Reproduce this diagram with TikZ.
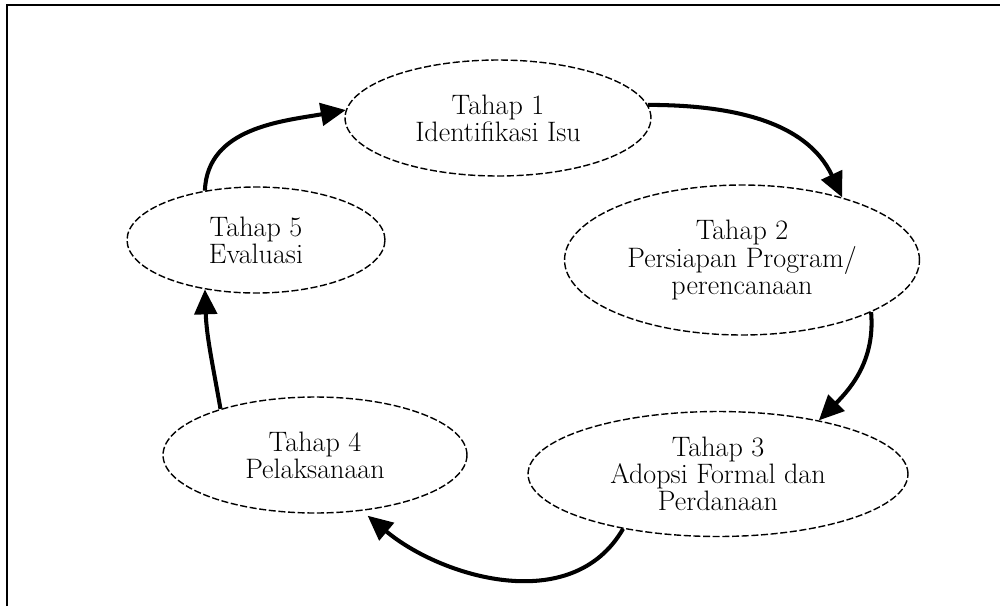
\documentclass[tikz,border=0pt]{standalone}
\usepackage{fontspec}
\usetikzlibrary{shapes.geometric,arrows.meta}
\begin{document}
\begin{tikzpicture}[x=0.02cm,y=-0.02cm]
\tikzstyle{every node}=[draw,shape=ellipse,line width=0.8pt,dash pattern=on 4pt off 1.5pt,inner sep=0pt,align=center,font=\fontsize{16}{15.5}\selectfont\addfontfeatures{LetterSpace=6}];
\tikzstyle{alur}=[line width=2.3pt,-{Triangle[length=5mm,width=4.5mm]}];
\useasboundingbox (0,0) rectangle (1000,606);
\draw[line width=1.2pt] (7,606) -- (7,5) -- (1000,5);
\node[minimum width=6.12cm,minimum height=2.32cm] (1) at (498,118) {Tahap 1\\Identifikasi Isu};
\node[minimum width=7.1cm,minimum height=3cm] (2) at (742,260) {Tahap 2\\Persiapan Program/\\perencanaan};
\node[minimum width=7.6cm,minimum height=2.5cm] (3) at (718,474) {Tahap 3\\Adopsi Formal dan\\Perdanaan};
\node[minimum width=6.08cm,minimum height=2.32cm] (4) at (315,455) {Tahap 4\\Pelaksanaan};
\node[minimum width=5.16cm,minimum height=2.12cm] (5) at (256,240) {Tahap 5\\Evaluasi};
\draw[alur] (1.5) to[out=0,in=115] (2.32);
\draw[alur] (2.-22) to[out=-85,in=45] (3.28);
\draw[alur,shorten >=1.5mm] (3.-150) to[out=-120,in=-40] (4.-50);
\draw[alur] (4.154) to[out=100,in=-88] (5.224);
\draw[alur] (5.136) to[out=88,in=190] (1.177);
\end{tikzpicture}
\end{document}
